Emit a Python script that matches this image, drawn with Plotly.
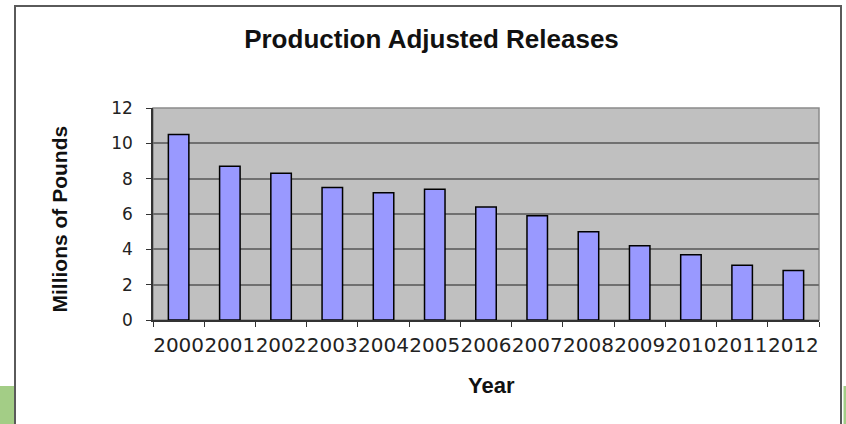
import plotly.graph_objects as go

years = ["2000", "2001", "2002", "2003", "2004", "2005", "2006",
         "2007", "2008", "2009", "2010", "2011", "2012"]
releases = [10.5, 8.7, 8.3, 7.5, 7.2, 7.4, 6.4, 5.9, 5.0, 4.2, 3.7, 3.1, 2.8]
y_ticks = [0, 2, 4, 6, 8, 10, 12]

W, H = 846, 424
L, R, T, B = 153, 819, 108, 320  # plot area in pixels


def px(x):
    return (x - L) / (R - L)


def py(y):
    return (B - y) / (B - T)


fig = go.Figure()
fig.add_trace(go.Bar(
    x=years, y=releases, width=0.4,
    marker=dict(color="#9999ff", line=dict(color="#000000", width=1.5)),
    showlegend=False,
))

shapes = [
    dict(type="rect", xref="paper", yref="paper", x0=0, x1=1, y0=0, y1=1,
         line=dict(color="#8a8a8a", width=1.5), layer="below"),
    dict(type="rect", xref="paper", yref="paper",
         x0=px(15), x1=px(841), y0=py(6), y1=py(440),
         line=dict(color="#5a5a5a", width=2), fillcolor="rgba(0,0,0,0)"),
    dict(type="rect", xref="paper", yref="paper",
         x0=px(-2), x1=px(14), y0=py(386), y1=py(430),
         line=dict(width=0), fillcolor="#a3cd86"),
    dict(type="rect", xref="paper", yref="paper",
         x0=px(843.5), x1=px(850), y0=py(386), y1=py(430),
         line=dict(width=0), fillcolor="#a3cd86"),
]

annotations = [
    dict(text="<b>Millions of Pounds</b>", textangle=-90, showarrow=False,
         xref="paper", yref="paper", x=px(58.5), y=py(219),
         xanchor="center", yanchor="middle",
         font=dict(family="Liberation Sans, Arial", size=21, color="#111111")),
    dict(text="<b>Year</b>", showarrow=False,
         xref="paper", yref="paper", x=px(491.5), y=py(385),
         xanchor="center", yanchor="middle",
         font=dict(family="Liberation Sans, Arial", size=22, color="#111111")),
]

fig.update_layout(
    width=W, height=H,
    margin=dict(l=L, r=W - R, t=T, b=H - B, pad=0),
    paper_bgcolor="white",
    plot_bgcolor="#c0c0c0",
    title=dict(text="<b>Production Adjusted Releases</b>",
               xref="container", yref="container",
               x=431.5 / W, y=1 - 39 / H, xanchor="center", yanchor="middle",
               font=dict(family="Liberation Sans, Arial", size=26, color="#111111")),
    shapes=shapes,
    annotations=annotations,
    bargap=0.6,
)

fig.update_xaxes(
    type="category", range=[-0.5, len(years) - 0.5],
    showline=True, linecolor="#333333", linewidth=1.5,
    ticks="outside", tickson="boundaries", ticklen=5, tickcolor="#333333",
    tickangle=0, ticklabelstandoff=6,
    tickfont=dict(family="DejaVu Sans", size=20, color="#222222"),
    showgrid=False, zeroline=False,
)
fig.update_yaxes(
    range=[0, 12], tickvals=y_ticks, ticktext=[str(v) for v in y_ticks],
    showline=True, linecolor="#333333", linewidth=1.5,
    ticks="outside", ticklen=5, tickcolor="#333333",
    ticklabelstandoff=10,
    tickfont=dict(family="DejaVu Sans", size=17, color="#222222"),
    showgrid=True, gridcolor="#707070", gridwidth=1.5, zeroline=False,
)

fig.write_html("out.html")
